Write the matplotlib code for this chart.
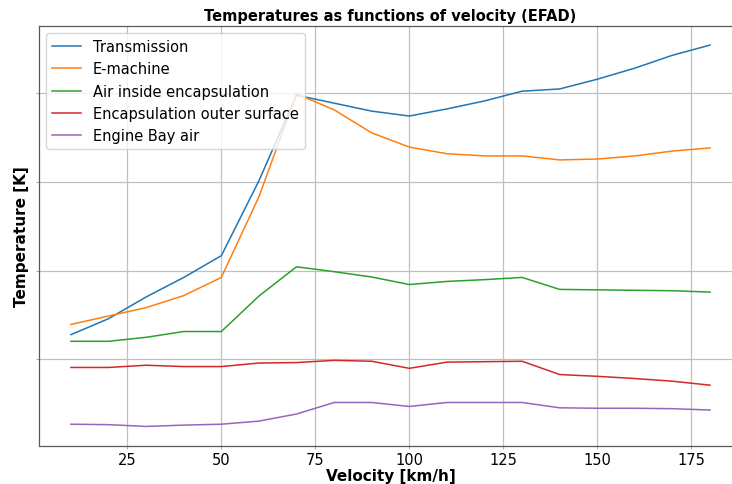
import matplotlib
matplotlib.use("Agg")
import matplotlib.pyplot as plt

velocity = [10, 20, 30, 40, 50, 60, 70, 80, 90, 100, 110, 120, 130, 140, 150, 160, 170, 180]
transmission = [325.6, 329.2, 334.1, 338.5, 343.4, 360.3, 379.6, 377.8, 376.0, 374.9,
                376.5, 378.3, 380.5, 381.0, 383.2, 385.7, 388.6, 390.9]
e_machine = [327.9, 329.8, 331.7, 334.4, 338.5, 356.7, 379.9, 376.3, 371.1, 367.9,
             366.4, 365.9, 365.9, 365.0, 365.2, 365.9, 367.0, 367.7]
air_inside = [324.1, 324.1, 325.0, 326.3, 326.3, 334.3, 340.9, 339.8, 338.6, 336.9,
              337.6, 338.0, 338.5, 335.8, 335.7, 335.6, 335.5, 335.2]
outer_surface = [318.2, 318.2, 318.7, 318.4, 318.4, 319.2, 319.3, 319.8, 319.6, 318.0,
                 319.4, 319.5, 319.6, 316.6, 316.2, 315.7, 315.1, 314.2]
engine_bay = [305.4, 305.3, 304.9, 305.2, 305.4, 306.1, 307.7, 310.3, 310.3, 309.4,
              310.3, 310.3, 310.3, 309.1, 309.0, 309.0, 308.9, 308.6]

series = [
    ("Transmission", transmission, "#1f77b4"),
    ("E-machine", e_machine, "#ff7f0e"),
    ("Air inside encapsulation", air_inside, "#2ca02c"),
    ("Encapsulation outer surface", outer_surface, "#d62728"),
    ("Engine Bay air", engine_bay, "#9467bd"),
]
x_ticks = [25, 50, 75, 100, 125, 150, 175]
y_ticks = [320, 340, 360, 380]

fig = plt.figure(figsize=(7.32, 4.85), dpi=100)
ax = fig.add_axes([39 / 732, 38.5 / 485, 703 / 732, 419.5 / 485])

for name, vals, col in series:
    ax.plot(velocity, vals, color=col, lw=1.1, label=name)

ax.set_xlim(1.5, 188.5)
ax.set_xticks(x_ticks)
ax.set_yticks(y_ticks)
ax.set_yticklabels([])
ax.tick_params(axis="both", length=2, width=0.6, color="0.6", labelsize=10.5, pad=3)
ax.grid(True, color="#c0c0c0", lw=0.9)
ax.set_axisbelow(True)
for s in ax.spines.values():
    s.set_color("0.35")
    s.set_linewidth(0.9)

ax.set_title("Temperatures as functions of velocity (EFAD)", fontsize=10.5,
             fontweight="bold", pad=4)
ax.set_xlabel("Velocity [km/h]", fontsize=11, fontweight="bold", labelpad=0.5)
ax.set_ylabel("Temperature [K]", fontsize=11, fontweight="bold", labelpad=2.5)

ax.legend(loc="upper left", fontsize=10.5, framealpha=0.8, borderaxespad=0.5)

fig.savefig("out.png", dpi=100)
